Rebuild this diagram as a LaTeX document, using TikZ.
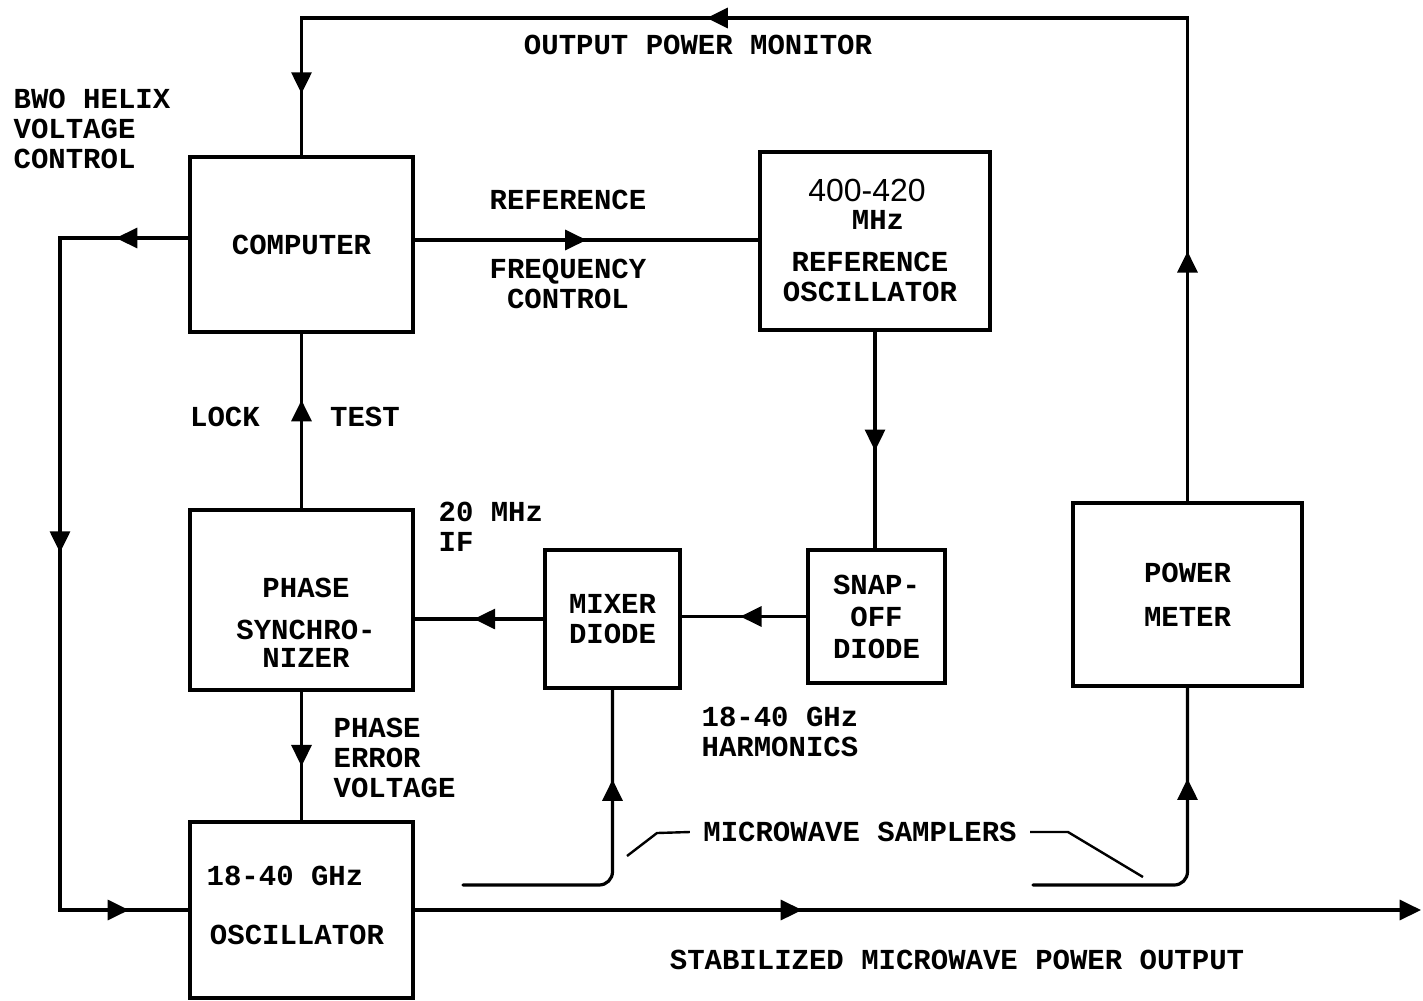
\documentclass[tikz,border=0pt]{standalone}
\usepackage{fontspec}
\setmainfont{Liberation Mono}
\newfontfamily\digitfont{Liberation Sans}
\usetikzlibrary{arrows.meta,decorations.markings}

\tikzset{
  arrowat/.style={postaction={decorate,decoration={markings,mark=at position #1 with {\arrow{>}}}}},
  txt/.style={inner sep=0pt},
  blk/.style={draw,inner sep=0pt}
}

\begin{document}
\begin{tikzpicture}[x=0.75pt,y=0.75pt,yscale=-1,xscale=1,
  font=\fontsize{21.75}{22.5}\selectfont\bfseries,
  >={Triangle[length=16pt,width=15pt]},
  line width=2.4pt]
\useasboundingbox (0,0) rectangle (1423,1000);

%Flowchart: Process
\node [blk,minimum width=167.25pt,minimum height=131.25pt] (comp) at (301.5,244.5) {COMPUTER};
%Flowchart: Process
\node [blk,minimum width=172.5pt,minimum height=133.5pt] (refosc) at (875,241) {};
%Flowchart: Process
\node [blk,minimum width=167.25pt,minimum height=135pt] (phase) at (301.5,600) {};
%Flowchart: Process
\node [blk,minimum width=101.25pt,minimum height=103.5pt,align=center] (mixer) at (612.5,619) {MIXER\\DIODE};
%Flowchart: Process
\node [blk,minimum width=102.75pt,minimum height=99.75pt,align=center] (snap) at (876.5,616.5) {SNAP-\\[1.5pt]OFF\\[1.5pt]DIODE};
%Flowchart: Process
\node [blk,minimum width=171.75pt,minimum height=137.25pt,align=center] (power) at (1187.5,594.5) {POWER\\[10.5pt]METER};
%Flowchart: Process
\node [blk,minimum width=167.25pt,minimum height=132pt] (osc) at (301.5,910) {};

% Text Node
\node [txt] (refosc-f) at (867,190) {\digitfont\fontsize{24}{24}\selectfont\mdseries 400-420};
\node [txt] (refosc-m) at (878,220) {MHz};
\node [txt,align=center] (refosc-n) at (870,277) {REFERENCE\\OSCILLATOR};
% Text Node
\node [txt,align=center] (phase-t) at (306,623) {PHASE\\[9pt]SYNCHRO-\\[-1.5pt]NIZER};
% Text Node
\node [txt] (osc-f) at (285,876) {18-40 GHz};
\node [txt] (osc-n) at (297,935) {OSCILLATOR};

% Text Node
\node [txt,anchor=north west,align=left] (bwo) at (12,87) {BWO HELIX\\VOLTAGE\\CONTROL};
\node [txt] (monitor) at (698,45) {OUTPUT POWER MONITOR};
\node [txt] (reffreq) at (568,200) {REFERENCE};
\node [txt,align=center] (freqctl) at (568,284) {FREQUENCY\\CONTROL};
\node [txt] (lock) at (225,417) {LOCK};
\node [txt] (test) at (365,417) {TEST};
\node [txt,anchor=north west,align=left] (ifreq) at (437,500) {20 MHz\\IF};
\node [txt,anchor=north west,align=left] (harm) at (700,705) {18-40 GHz\\HARMONICS};
\node [txt,anchor=north west,align=left] (perr) at (332,716) {PHASE\\ERROR\\VOLTAGE};
\node [txt,inner xsep=9pt] (samplers) at (860,832) {MICROWAVE SAMPLERS};
\node [txt] (output) at (957,960) {STABILIZED MICROWAVE POWER OUTPUT};

%Straight Lines
\coordinate (tr) at (power.north |- 0,18);
\coordinate (tl) at (comp.north |- tr);
\draw [arrowat=0.166,arrowat=0.64,arrowat=0.959] (power.north) -- (tr) -- (tl) -- (comp.north);
\coordinate (lt) at (60,238);
\coordinate (lb) at (osc.west -| lt);
\draw [arrowat=0.078,arrowat=0.477,arrowat=0.936] (comp.west |- lt) -- (lt) -- (lb) -- (osc.west);
\draw [arrowat=0.5] (comp.east |- 0,240) -- (refosc.west |- 0,240);
\draw [arrowat=0.55] (refosc.south) -- (refosc.south |- snap.north);
\draw [arrowat=0.53] (snap.west) -- (snap.west -| mixer.east);
\draw [arrowat=0.54] (mixer.west) -- (mixer.west -| phase.east);
\draw [arrowat=0.62] (phase.north) -- (comp.south);
\draw [arrowat=0.58] (phase.south) -- (osc.north);
\coordinate (out) at (1421,910);
\draw [arrowat=0.385,->] (osc.east) -- (out);

%Samplers
\coordinate (samp1) at (463,885);
\coordinate (samp2) at (1033,885);
\draw [rounded corners=10pt,line cap=round,arrowat=0.735] (samp1) -| (mixer.south);
\draw [rounded corners=10pt,line cap=round,arrowat=0.737] (samp2) -| (power.south);
\coordinate (ld1) at (657,833);
\coordinate (ld2) at (627,856);
\draw [line width=1.8pt] (samplers.west) -- (ld1) -- (ld2);
\coordinate (rd1) at (1068,832);
\coordinate (rd2) at (1143,877);
\draw [line width=1.8pt] (samplers.east) -- (rd1) -- (rd2);

\end{tikzpicture}
\end{document}
